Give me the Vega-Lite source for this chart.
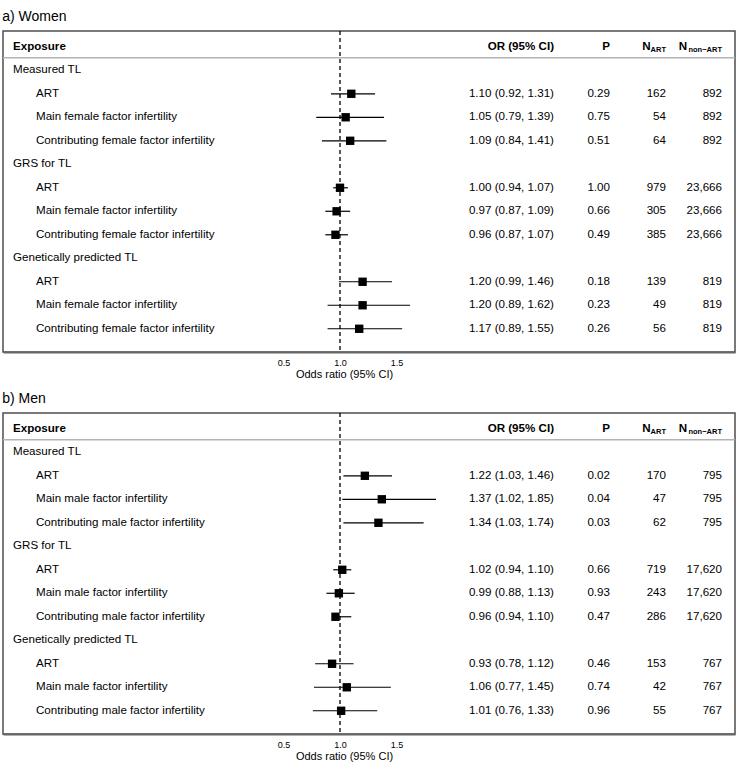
{
  "$schema": "https://vega.github.io/schema/vega-lite/v6.json",
  "padding": {"left": 1, "top": 9, "right": 0, "bottom": 0},
  "background": "white",
  "config": {
    "font": "Liberation Sans",
    "view": {"stroke": "#4d4d4d", "strokeWidth": 1.5},
    "title": {"anchor": "start", "fontSize": 14, "fontWeight": "normal", "color": "black", "offset": 6},
    "concat": {"spacing": 11},
    "text": {"color": "black", "fontSize": 11.6, "baseline": "middle"}
  },
  "datasets": {
    "rows": [
      {"sex": "W", "k": "m", "level": "group", "label": "Measured TL"},
      {"sex": "W", "k": "m1", "level": "item", "label": "ART", "or": 1.10, "lo": 0.92, "hi": 1.31, "ci": "1.10 (0.92, 1.31)", "p": "0.29", "nart": "162", "nnon": "892"},
      {"sex": "W", "k": "m2", "level": "item", "label": "Main female factor infertility", "or": 1.05, "lo": 0.79, "hi": 1.39, "ci": "1.05 (0.79, 1.39)", "p": "0.75", "nart": "54", "nnon": "892"},
      {"sex": "W", "k": "m3", "level": "item", "label": "Contributing female factor infertility", "or": 1.09, "lo": 0.84, "hi": 1.41, "ci": "1.09 (0.84, 1.41)", "p": "0.51", "nart": "64", "nnon": "892"},
      {"sex": "W", "k": "g", "level": "group", "label": "GRS for TL"},
      {"sex": "W", "k": "g1", "level": "item", "label": "ART", "or": 1.00, "lo": 0.94, "hi": 1.07, "ci": "1.00 (0.94, 1.07)", "p": "1.00", "nart": "979", "nnon": "23,666"},
      {"sex": "W", "k": "g2", "level": "item", "label": "Main female factor infertility", "or": 0.97, "lo": 0.87, "hi": 1.09, "ci": "0.97 (0.87, 1.09)", "p": "0.66", "nart": "305", "nnon": "23,666"},
      {"sex": "W", "k": "g3", "level": "item", "label": "Contributing female factor infertility", "or": 0.96, "lo": 0.87, "hi": 1.07, "ci": "0.96 (0.87, 1.07)", "p": "0.49", "nart": "385", "nnon": "23,666"},
      {"sex": "W", "k": "p", "level": "group", "label": "Genetically predicted TL"},
      {"sex": "W", "k": "p1", "level": "item", "label": "ART", "or": 1.20, "lo": 0.99, "hi": 1.46, "ci": "1.20 (0.99, 1.46)", "p": "0.18", "nart": "139", "nnon": "819"},
      {"sex": "W", "k": "p2", "level": "item", "label": "Main female factor infertility", "or": 1.20, "lo": 0.89, "hi": 1.62, "ci": "1.20 (0.89, 1.62)", "p": "0.23", "nart": "49", "nnon": "819"},
      {"sex": "W", "k": "p3", "level": "item", "label": "Contributing female factor infertility", "or": 1.17, "lo": 0.89, "hi": 1.55, "ci": "1.17 (0.89, 1.55)", "p": "0.26", "nart": "56", "nnon": "819"},
      {"sex": "M", "k": "m", "level": "group", "label": "Measured TL"},
      {"sex": "M", "k": "m1", "level": "item", "label": "ART", "or": 1.22, "lo": 1.03, "hi": 1.46, "ci": "1.22 (1.03, 1.46)", "p": "0.02", "nart": "170", "nnon": "795"},
      {"sex": "M", "k": "m2", "level": "item", "label": "Main male factor infertility", "or": 1.37, "lo": 1.02, "hi": 1.85, "ci": "1.37 (1.02, 1.85)", "p": "0.04", "nart": "47", "nnon": "795"},
      {"sex": "M", "k": "m3", "level": "item", "label": "Contributing male factor infertility", "or": 1.34, "lo": 1.03, "hi": 1.74, "ci": "1.34 (1.03, 1.74)", "p": "0.03", "nart": "62", "nnon": "795"},
      {"sex": "M", "k": "g", "level": "group", "label": "GRS for TL"},
      {"sex": "M", "k": "g1", "level": "item", "label": "ART", "or": 1.02, "lo": 0.94, "hi": 1.10, "ci": "1.02 (0.94, 1.10)", "p": "0.66", "nart": "719", "nnon": "17,620"},
      {"sex": "M", "k": "g2", "level": "item", "label": "Main male factor infertility", "or": 0.99, "lo": 0.88, "hi": 1.13, "ci": "0.99 (0.88, 1.13)", "p": "0.93", "nart": "243", "nnon": "17,620"},
      {"sex": "M", "k": "g3", "level": "item", "label": "Contributing male factor infertility", "or": 0.96, "lo": 0.94, "hi": 1.10, "ci": "0.96 (0.94, 1.10)", "p": "0.47", "nart": "286", "nnon": "17,620"},
      {"sex": "M", "k": "p", "level": "group", "label": "Genetically predicted TL"},
      {"sex": "M", "k": "p1", "level": "item", "label": "ART", "or": 0.93, "lo": 0.78, "hi": 1.12, "ci": "0.93 (0.78, 1.12)", "p": "0.46", "nart": "153", "nnon": "767"},
      {"sex": "M", "k": "p2", "level": "item", "label": "Main male factor infertility", "or": 1.06, "lo": 0.77, "hi": 1.45, "ci": "1.06 (0.77, 1.45)", "p": "0.74", "nart": "42", "nnon": "767"},
      {"sex": "M", "k": "p3", "level": "item", "label": "Contributing male factor infertility", "or": 1.01, "lo": 0.76, "hi": 1.33, "ci": "1.01 (0.76, 1.33)", "p": "0.96", "nart": "55", "nnon": "767"}
    ],
    "hdr": [
      {"col": "ci", "t": "OR (95% CI)"},
      {"col": "p", "t": "P"}
    ]
  },
  "vconcat": [
    {
      "title": "a) Women",
      "width": 732,
      "height": 321,
      "data": {"name": "rows"},
      "transform": [{"filter": "datum.sex == 'W'"}],
      "resolve": {"scale": {"x": "independent"}},
      "layer": [
        {"data": {"values": [{}]}, "mark": {"type": "rule", "strokeDash": [4, 3], "strokeWidth": 1.3, "color": "black"},
         "encoding": {"x": {"datum": 1, "type": "quantitative", "scale": {"domain": [-1.9823, 4.4956], "nice": false, "zero": false}, "axis": null}}},
        {"data": {"values": [{}]}, "mark": {"type": "rule", "color": "#b3b3b3", "strokeWidth": 1.5, "yOffset": 11},
         "encoding": {"y": {"datum": "hdr", "type": "nominal", "scale": {"type": "band", "domain": ["hdr","m","m1","m2","m3","g","g1","g2","g3","p","p1","p2","p3"], "paddingInner": 0, "paddingOuter": 0.33, "align": 0.26}, "axis": null}}},
        {"transform": [{"filter": "datum.level == 'item'"}], "mark": {"type": "rule", "strokeWidth": 1.2, "color": "black"},
         "encoding": {
           "x": {"field": "lo", "type": "quantitative", "scale": {"domain": [-1.9823, 4.4956], "nice": false, "zero": false},
                 "axis": {"values": [0.5, 1, 1.5], "format": ".1f", "labelFontSize": 9, "labelColor": "black", "ticks": false, "labelPadding": 6, "domainColor": "#666666", "domainWidth": 2, "grid": false, "title": "Odds ratio (95% CI)", "titleFontSize": 11, "titleFontWeight": "normal", "titleColor": "black", "titlePadding": 1, "titleX": 341, "titleAlign": "center"}},
           "x2": {"field": "hi"},
           "y": {"field": "k", "type": "nominal", "scale": {"type": "band", "domain": ["hdr","m","m1","m2","m3","g","g1","g2","g3","p","p1","p2","p3"], "paddingInner": 0, "paddingOuter": 0.33, "align": 0.26}, "axis": null}}},
        {"transform": [{"filter": "datum.level == 'item'"}], "mark": {"type": "point", "shape": "square", "filled": true, "size": 70, "color": "black", "opacity": 1},
         "encoding": {
           "x": {"field": "or", "type": "quantitative", "scale": {"domain": [-1.9823, 4.4956], "nice": false, "zero": false}, "axis": null},
           "y": {"field": "k", "type": "nominal", "axis": null}}},
        {"mark": {"type": "text", "align": "left"},
         "encoding": {
           "x": {"field": "level", "type": "nominal", "scale": {"type": "point", "domain": ["group", "item"], "range": [10, 33], "padding": 0}, "axis": null},
           "y": {"field": "k", "type": "nominal", "axis": null},
           "text": {"field": "label"}}},
        {"transform": [{"filter": "datum.level == 'item'"}, {"fold": ["ci", "p", "nart", "nnon"], "as": ["col", "val"]}],
         "mark": {"type": "text", "align": "right"},
         "encoding": {
           "x": {"field": "col", "type": "nominal", "scale": {"type": "point", "domain": ["ci", "p", "nart", "nnon"], "range": [551, 719], "padding": 0}, "axis": null},
           "y": {"field": "k", "type": "nominal", "axis": null},
           "text": {"field": "val"}}},
        {"data": {"values": [{"level": "group", "t": "Exposure"}]}, "mark": {"type": "text", "align": "left", "fontWeight": "bold"},
         "encoding": {
           "x": {"field": "level", "type": "nominal", "scale": {"type": "point", "domain": ["group", "item"], "range": [10, 33], "padding": 0}, "axis": null},
           "y": {"datum": "hdr", "type": "nominal", "axis": null},
           "text": {"field": "t"}}},
        {"data": {"name": "hdr"}, "mark": {"type": "text", "align": "right", "fontWeight": "bold"},
         "encoding": {
           "x": {"field": "col", "type": "nominal", "scale": {"type": "point", "domain": ["ci", "p", "nart", "nnon"], "range": [551, 719], "padding": 0}, "axis": null},
           "y": {"datum": "hdr", "type": "nominal", "axis": null},
           "text": {"field": "t"}}},
        {"data": {"values": [{"col": "nart", "t": "N"}]}, "mark": {"type": "text", "align": "right", "fontWeight": "bold", "dx": -15.5},
         "encoding": {
           "x": {"field": "col", "type": "nominal", "scale": {"type": "point", "domain": ["ci", "p", "nart", "nnon"], "range": [551, 719], "padding": 0}, "axis": null},
           "y": {"datum": "hdr", "type": "nominal", "axis": null},
           "text": {"field": "t"}}},
        {"data": {"values": [{"col": "nart", "t": "ART"}]}, "mark": {"type": "text", "align": "right", "fontWeight": "bold", "fontSize": 7.5, "dy": 3},
         "encoding": {
           "x": {"field": "col", "type": "nominal", "scale": {"type": "point", "domain": ["ci", "p", "nart", "nnon"], "range": [551, 719], "padding": 0}, "axis": null},
           "y": {"datum": "hdr", "type": "nominal", "axis": null},
           "text": {"field": "t"}}},
        {"data": {"values": [{"col": "nnon", "t": "N"}]}, "mark": {"type": "text", "align": "right", "fontWeight": "bold", "dx": -35},
         "encoding": {
           "x": {"field": "col", "type": "nominal", "scale": {"type": "point", "domain": ["ci", "p", "nart", "nnon"], "range": [551, 719], "padding": 0}, "axis": null},
           "y": {"datum": "hdr", "type": "nominal", "axis": null},
           "text": {"field": "t"}}},
        {"data": {"values": [{"col": "nnon", "t": "non−ART"}]}, "mark": {"type": "text", "align": "right", "fontWeight": "bold", "fontSize": 7.5, "dy": 3},
         "encoding": {
           "x": {"field": "col", "type": "nominal", "scale": {"type": "point", "domain": ["ci", "p", "nart", "nnon"], "range": [551, 719], "padding": 0}, "axis": null},
           "y": {"datum": "hdr", "type": "nominal", "axis": null},
           "text": {"field": "t"}}}
      ]
    },
    {
      "title": "b) Men",
      "width": 732,
      "height": 321,
      "data": {"name": "rows"},
      "transform": [{"filter": "datum.sex == 'M'"}],
      "resolve": {"scale": {"x": "independent"}},
      "layer": [
        {"data": {"values": [{}]}, "mark": {"type": "rule", "strokeDash": [4, 3], "strokeWidth": 1.3, "color": "black"},
         "encoding": {"x": {"datum": 1, "type": "quantitative", "scale": {"domain": [-1.9823, 4.4956], "nice": false, "zero": false}, "axis": null}}},
        {"data": {"values": [{}]}, "mark": {"type": "rule", "color": "#b3b3b3", "strokeWidth": 1.5, "yOffset": 11},
         "encoding": {"y": {"datum": "hdr", "type": "nominal", "scale": {"type": "band", "domain": ["hdr","m","m1","m2","m3","g","g1","g2","g3","p","p1","p2","p3"], "paddingInner": 0, "paddingOuter": 0.33, "align": 0.26}, "axis": null}}},
        {"transform": [{"filter": "datum.level == 'item'"}], "mark": {"type": "rule", "strokeWidth": 1.2, "color": "black"},
         "encoding": {
           "x": {"field": "lo", "type": "quantitative", "scale": {"domain": [-1.9823, 4.4956], "nice": false, "zero": false},
                 "axis": {"values": [0.5, 1, 1.5], "format": ".1f", "labelFontSize": 9, "labelColor": "black", "ticks": false, "labelPadding": 6, "domainColor": "#666666", "domainWidth": 2, "grid": false, "title": "Odds ratio (95% CI)", "titleFontSize": 11, "titleFontWeight": "normal", "titleColor": "black", "titlePadding": 1, "titleX": 341, "titleAlign": "center"}},
           "x2": {"field": "hi"},
           "y": {"field": "k", "type": "nominal", "scale": {"type": "band", "domain": ["hdr","m","m1","m2","m3","g","g1","g2","g3","p","p1","p2","p3"], "paddingInner": 0, "paddingOuter": 0.33, "align": 0.26}, "axis": null}}},
        {"transform": [{"filter": "datum.level == 'item'"}], "mark": {"type": "point", "shape": "square", "filled": true, "size": 70, "color": "black", "opacity": 1},
         "encoding": {
           "x": {"field": "or", "type": "quantitative", "scale": {"domain": [-1.9823, 4.4956], "nice": false, "zero": false}, "axis": null},
           "y": {"field": "k", "type": "nominal", "axis": null}}},
        {"mark": {"type": "text", "align": "left"},
         "encoding": {
           "x": {"field": "level", "type": "nominal", "scale": {"type": "point", "domain": ["group", "item"], "range": [10, 33], "padding": 0}, "axis": null},
           "y": {"field": "k", "type": "nominal", "axis": null},
           "text": {"field": "label"}}},
        {"transform": [{"filter": "datum.level == 'item'"}, {"fold": ["ci", "p", "nart", "nnon"], "as": ["col", "val"]}],
         "mark": {"type": "text", "align": "right"},
         "encoding": {
           "x": {"field": "col", "type": "nominal", "scale": {"type": "point", "domain": ["ci", "p", "nart", "nnon"], "range": [551, 719], "padding": 0}, "axis": null},
           "y": {"field": "k", "type": "nominal", "axis": null},
           "text": {"field": "val"}}},
        {"data": {"values": [{"level": "group", "t": "Exposure"}]}, "mark": {"type": "text", "align": "left", "fontWeight": "bold"},
         "encoding": {
           "x": {"field": "level", "type": "nominal", "scale": {"type": "point", "domain": ["group", "item"], "range": [10, 33], "padding": 0}, "axis": null},
           "y": {"datum": "hdr", "type": "nominal", "axis": null},
           "text": {"field": "t"}}},
        {"data": {"name": "hdr"}, "mark": {"type": "text", "align": "right", "fontWeight": "bold"},
         "encoding": {
           "x": {"field": "col", "type": "nominal", "scale": {"type": "point", "domain": ["ci", "p", "nart", "nnon"], "range": [551, 719], "padding": 0}, "axis": null},
           "y": {"datum": "hdr", "type": "nominal", "axis": null},
           "text": {"field": "t"}}},
        {"data": {"values": [{"col": "nart", "t": "N"}]}, "mark": {"type": "text", "align": "right", "fontWeight": "bold", "dx": -15.5},
         "encoding": {
           "x": {"field": "col", "type": "nominal", "scale": {"type": "point", "domain": ["ci", "p", "nart", "nnon"], "range": [551, 719], "padding": 0}, "axis": null},
           "y": {"datum": "hdr", "type": "nominal", "axis": null},
           "text": {"field": "t"}}},
        {"data": {"values": [{"col": "nart", "t": "ART"}]}, "mark": {"type": "text", "align": "right", "fontWeight": "bold", "fontSize": 7.5, "dy": 3},
         "encoding": {
           "x": {"field": "col", "type": "nominal", "scale": {"type": "point", "domain": ["ci", "p", "nart", "nnon"], "range": [551, 719], "padding": 0}, "axis": null},
           "y": {"datum": "hdr", "type": "nominal", "axis": null},
           "text": {"field": "t"}}},
        {"data": {"values": [{"col": "nnon", "t": "N"}]}, "mark": {"type": "text", "align": "right", "fontWeight": "bold", "dx": -35},
         "encoding": {
           "x": {"field": "col", "type": "nominal", "scale": {"type": "point", "domain": ["ci", "p", "nart", "nnon"], "range": [551, 719], "padding": 0}, "axis": null},
           "y": {"datum": "hdr", "type": "nominal", "axis": null},
           "text": {"field": "t"}}},
        {"data": {"values": [{"col": "nnon", "t": "non−ART"}]}, "mark": {"type": "text", "align": "right", "fontWeight": "bold", "fontSize": 7.5, "dy": 3},
         "encoding": {
           "x": {"field": "col", "type": "nominal", "scale": {"type": "point", "domain": ["ci", "p", "nart", "nnon"], "range": [551, 719], "padding": 0}, "axis": null},
           "y": {"datum": "hdr", "type": "nominal", "axis": null},
           "text": {"field": "t"}}}
      ]
    }
  ]
}
